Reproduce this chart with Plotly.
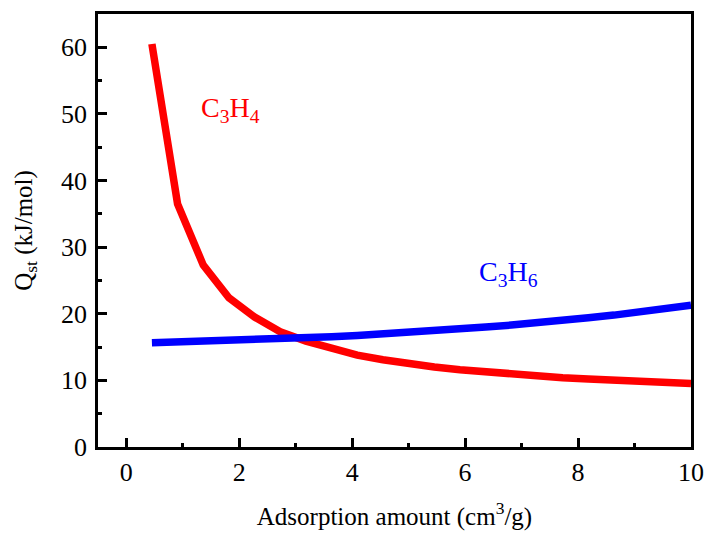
import plotly.graph_objects as go

# Adsorption amount (cm3/g) grid shared by both isosteric heat curves
amount = [0.4545, 0.909, 1.364, 1.818, 2.273, 2.727, 3.182, 3.636, 4.091, 4.545, 5.0,
          5.455, 5.909, 6.364, 6.818, 7.273, 7.727, 8.182, 8.636, 9.091, 9.545, 10.0]

# Isosteric heat of adsorption Qst (kJ/mol)
qst_c3h4 = [60.5, 36.5, 27.3, 22.4, 19.5, 17.3, 15.9, 14.8, 13.8, 13.1, 12.5,
            12.0, 11.6, 11.25, 10.95, 10.65, 10.4, 10.2, 10.0, 9.85, 9.7, 9.55]
qst_c3h6 = [15.65, 15.75, 15.85, 15.95, 16.05, 16.2, 16.35, 16.55, 16.75, 16.95, 17.2,
            17.45, 17.7, 18.0, 18.3, 18.6, 19.0, 19.4, 19.8, 20.3, 20.8, 21.3]

x_ticks = [0, 2, 4, 6, 8, 10]
y_ticks = [0, 10, 20, 30, 40, 50, 60]

FONT = "Liberation Serif"

fig = go.Figure()
fig.add_trace(go.Scatter(x=amount, y=qst_c3h4, mode="lines",
                         line=dict(color="#ff0000", width=7.5), name="C3H4"))
fig.add_trace(go.Scatter(x=amount, y=qst_c3h6, mode="lines",
                         line=dict(color="#0000ff", width=7.5), name="C3H6"))

fig.add_annotation(x=1.84, y=50.6, text="C<sub>3</sub>H<sub>4</sub>", showarrow=False,
                   font=dict(family=FONT, size=28, color="#ff0000"))
fig.add_annotation(x=6.76, y=26.0, text="C<sub>3</sub>H<sub>6</sub>", showarrow=False,
                   font=dict(family=FONT, size=28, color="#0000ff"))

axis_common = dict(
    showgrid=False, zeroline=False, showline=True, linecolor="black", linewidth=2.5,
    mirror=True, ticks="inside", ticklen=9, tickwidth=2.5, tickcolor="black",
    tickfont=dict(family=FONT, size=26, color="black"), automargin=False,
)

fig.update_xaxes(
    range=[-0.5, 10], tickmode="array", tickvals=x_ticks,
    ticktext=[str(v) for v in x_ticks],
    minor=dict(ticks="inside", ticklen=4, tickwidth=2.5, tickcolor="black", dtick=1, tick0=1),
    title=dict(text="Adsorption amount (cm<sup>3</sup>/g)", standoff=22,
               font=dict(family=FONT, size=25, color="black")),
    **axis_common,
)
fig.update_yaxes(
    range=[0, 65], tickmode="array", tickvals=y_ticks,
    ticktext=[str(v) for v in y_ticks],
    ticklabelstandoff=3,
    minor=dict(ticks="inside", ticklen=4, tickwidth=2.5, tickcolor="black", dtick=5, tick0=5),
    title=dict(text="Q<sub>st</sub> (kJ/mol)", standoff=22,
               font=dict(family=FONT, size=25, color="black")),
    **axis_common,
)

fig.update_layout(
    width=709, height=536,
    margin=dict(l=98, r=18, t=14, b=89),
    paper_bgcolor="white", plot_bgcolor="white",
    showlegend=False,
)

fig.write_html("out.html")
